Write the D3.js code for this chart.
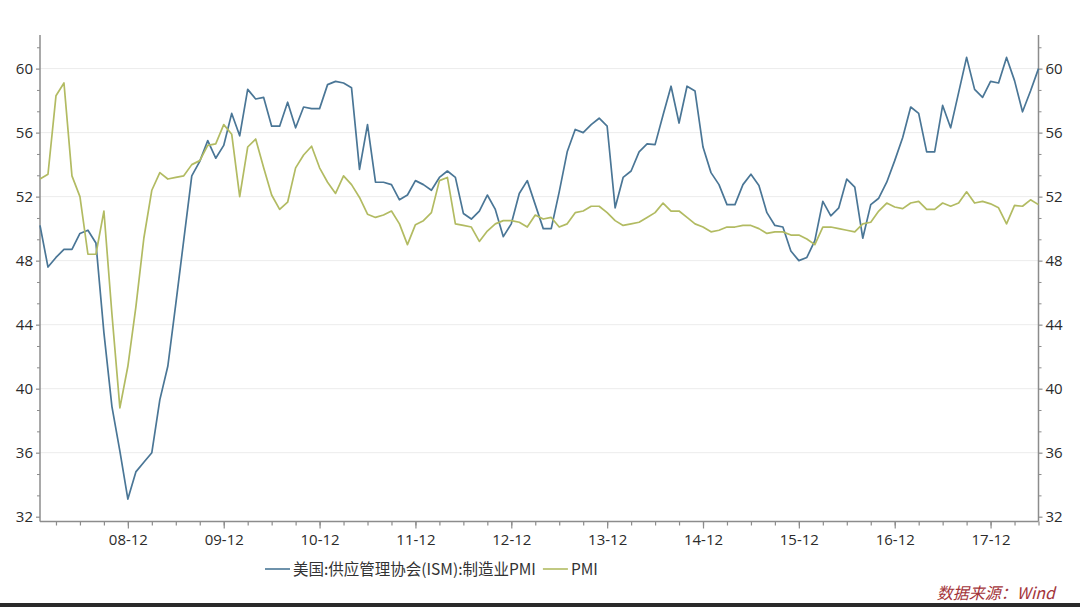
<!DOCTYPE html>
<html><head><meta charset="utf-8">
<script src="https://cdn.jsdelivr.net/npm/d3@7/dist/d3.min.js"></script>
<style>
html,body{margin:0;padding:0;background:#fff;}
svg{display:block;}
</style></head>
<body>
<svg id="chart" width="1080" height="607"></svg>
<script>
// ---- data ----
const startMonth = new Date(2008, 0, 1);
const endMonth = new Date(2018, 5, 1);
const months = d3.timeMonth.range(startMonth, d3.timeMonth.offset(endMonth, 1)).map(d3.timeFormat("%Y-%m"));

const ismPMI = [50.2,47.6,48.2,48.7,48.7,49.7,49.9,49.1,43.5,38.9,36.1,33.1,
34.8,35.4,36.0,39.3,41.4,45.3,49.3,53.3,54.2,55.5,54.4,55.2,
57.2,55.8,58.7,58.1,58.2,56.4,56.4,57.9,56.3,57.6,57.5,57.5,
59.0,59.2,59.1,58.8,53.7,56.5,52.9,52.9,52.75,51.8,52.1,53.0,
52.75,52.4,53.2,53.6,53.2,50.95,50.6,51.1,52.1,51.2,49.5,50.3,
52.2,53.0,51.5,50.0,50.0,52.3,54.8,56.2,56.0,56.5,56.9,56.4,
51.3,53.2,53.6,54.8,55.3,55.25,57.1,58.9,56.6,58.9,58.6,55.1,
53.5,52.75,51.5,51.5,52.75,53.4,52.7,51.0,50.2,50.1,48.6,48.0,
48.2,49.25,51.7,50.8,51.3,53.1,52.6,49.4,51.5,51.9,52.9,54.25,
55.7,57.6,57.2,54.8,54.8,57.7,56.3,58.5,60.7,58.7,58.2,59.2,
59.1,60.7,59.25,57.3,58.6,60.0];

const chinaPMI = [53.1,53.4,58.3,59.1,53.3,52.0,48.4,48.4,51.1,44.7,38.8,41.4,
45.1,49.4,52.4,53.5,53.1,53.2,53.3,54.0,54.25,55.2,55.3,56.5,
55.9,52.0,55.1,55.6,53.8,52.1,51.2,51.65,53.8,54.6,55.15,53.8,
52.9,52.2,53.3,52.75,51.95,50.9,50.7,50.85,51.1,50.3,49.0,50.25,
50.5,51.0,53.0,53.2,50.3,50.2,50.1,49.2,49.85,50.3,50.5,50.5,
50.4,50.1,50.85,50.6,50.7,50.1,50.3,51.0,51.1,51.4,51.4,51.0,
50.5,50.2,50.3,50.4,50.7,51.0,51.6,51.1,51.1,50.7,50.3,50.1,
49.8,49.9,50.1,50.1,50.2,50.2,50.0,49.7,49.8,49.8,49.6,49.6,
49.35,49.0,50.1,50.1,50.0,49.9,49.8,50.3,50.4,51.1,51.6,51.35,
51.25,51.6,51.7,51.2,51.2,51.6,51.4,51.6,52.3,51.6,51.7,51.55,
51.3,50.3,51.45,51.4,51.8,51.5];

const xTickMonths = ["2008-12","2009-12","2010-12","2011-12","2012-12","2013-12","2014-12","2015-12","2016-12","2017-12"];
const xTickLabels = ["08-12","09-12","10-12","11-12","12-12","13-12","14-12","15-12","16-12","17-12"];
const yTickValues = [32,36,40,44,48,52,56,60];
const seriesNames = ["美国:供应管理协会(ISM):制造业PMI","PMI"];
const seriesColors = ["#4a7696","#b2bb62"];
const sourceText = "数据来源：Wind";

// ---- layout ----
const svg = d3.select("#chart");
const L = 40, R = 1038.5, T = 35, B = 521.5;
const x = d3.scalePoint().domain(months).range([L, R]);
const y = d3.scaleLinear().domain([31.7, 62.1]).range([B, T]);

const font = "'Open Sans', 'Noto Sans', sans-serif";
const axisColor = "#8c8c8c";

// gridlines
svg.append("g").selectAll("line").data(yTickValues.filter(v => v > 32)).join("line")
  .attr("x1", L).attr("x2", R).attr("y1", d => y(d)).attr("y2", d => y(d))
  .attr("stroke", "#ececec").attr("stroke-width", 1);

// minor y ticks (3 intervals per major step)
const yMinor = d3.range(0, 23).map(k => 32 + k * 4 / 3).filter(v => Math.abs(v - Math.round(v / 4) * 4) > 0.01);

function styleAxis(g) {
  g.select(".domain").attr("stroke", axisColor).attr("stroke-width", 1.5);
  g.selectAll(".tick line").attr("stroke", axisColor).attr("stroke-width", 1.2);
  g.selectAll(".tick text").attr("fill", "#2b2b2b").style("font-family", font).style("font-size", "15px");
}

// left axis
const gl = svg.append("g").attr("transform", `translate(${L},0)`)
  .call(d3.axisLeft(y).tickValues(yTickValues).tickSize(4).tickPadding(3).tickFormat(d3.format("d")));
styleAxis(gl);
gl.select(".domain").attr("d", `M0,${B}V${T}`);
svg.append("g").attr("transform", `translate(${L},0)`)
  .call(d3.axisLeft(y).tickValues(yMinor).tickSize(3).tickFormat(""))
  .call(g => { g.select(".domain").remove(); g.selectAll("line").attr("stroke", axisColor); });

// right axis
const gr = svg.append("g").attr("transform", `translate(${R},0)`)
  .call(d3.axisRight(y).tickValues(yTickValues).tickSize(4).tickPadding(3).tickFormat(d3.format("d")));
styleAxis(gr);
gr.select(".domain").attr("d", `M0,${B}V${T}`);
svg.append("g").attr("transform", `translate(${R},0)`)
  .call(d3.axisRight(y).tickValues(yMinor).tickSize(3).tickFormat(""))
  .call(g => { g.select(".domain").remove(); g.selectAll("line").attr("stroke", axisColor); });

// bottom axis: minor quarterly ticks
const quarterMonths = months.filter(m => ["03","06","09","12"].includes(m.slice(5)));
svg.append("g").attr("transform", `translate(0,${B})`)
  .call(d3.axisBottom(x).tickValues(quarterMonths).tickSize(4).tickFormat(""))
  .call(g => { g.select(".domain").remove(); g.selectAll("line").attr("stroke", axisColor).attr("stroke-width", 1.2); });
const gb = svg.append("g").attr("transform", `translate(0,${B})`)
  .call(d3.axisBottom(x).tickValues(xTickMonths).tickSize(7).tickPadding(6)
    .tickFormat(d => xTickLabels[xTickMonths.indexOf(d)]));
styleAxis(gb);
gb.select(".domain").attr("d", `M${L},0H${R}`);

// lines
const line = d3.line().x((d, i) => x(months[i])).y(d => y(d));
[ismPMI, chinaPMI].forEach((s, k) => {
  svg.append("path").datum(s).attr("d", line)
    .attr("fill", "none").attr("stroke", seriesColors[k]).attr("stroke-width", 1.7)
    .attr("stroke-linejoin", "round");
});

// legend
const legend = svg.append("g").attr("transform", "translate(265,569)");
let lx = 0;
seriesNames.forEach((name, k) => {
  legend.append("line").attr("x1", lx).attr("x2", lx + 25).attr("y1", 0).attr("y2", 0)
    .attr("stroke", seriesColors[k]).attr("stroke-width", 1.6);
  const t = legend.append("text").attr("x", lx + 28).attr("y", 5.5)
    .style("font-family", "'Noto Sans CJK SC', 'Open Sans', sans-serif").style("font-size", "15.5px")
    .attr("fill", "#333").text(name);
  lx += 28 + t.node().getComputedTextLength() + 7;
});

// source
svg.append("text").attr("x", 1055).attr("y", 599).attr("text-anchor", "end")
  .style("font-family", "'Noto Sans CJK SC', sans-serif").style("font-size", "16px")
  .style("font-style", "italic").attr("fill", "#a3343a").text(sourceText);

// bottom dark border
svg.append("rect").attr("x", 0).attr("y", 603).attr("width", 1080).attr("height", 4).attr("fill", "#2a2a2a");
</script>
</body></html>
